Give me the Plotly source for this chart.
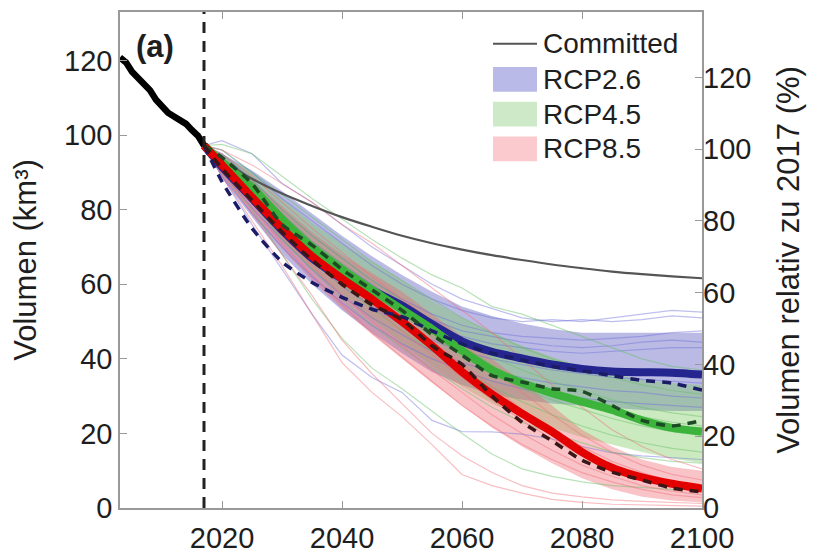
import plotly.graph_objects as go

# ---------------- data ----------------
hist_years = [2003, 2004, 2005, 2006, 2007, 2008, 2009, 2010, 2011, 2012, 2013, 2014, 2015, 2016, 2017]
hist_vol = [120.8, 119.5, 117.0, 115.5, 113.6, 112.0, 109.5, 107.5, 106.0, 105.0, 104.0, 103.0, 101.3, 99.8, 97.2]

years = [2017, 2020, 2025, 2030, 2035, 2040, 2045, 2050, 2055, 2060,
         2065, 2070, 2075, 2080, 2085, 2090, 2095, 2100]

committed = [97.2, 93.5, 88.3, 84.3, 81.0, 78.0, 75.4, 73.0, 71.0, 69.3,
             67.8, 66.5, 65.3, 64.3, 63.4, 62.7, 62.1, 61.6]

# RCP2.6
rcp26_mean = [97.2, 91.5, 83.0, 74.5, 67.0, 61.5, 58.3, 54.3, 49.3, 44.7,
              41.9, 40.1, 38.5, 37.3, 36.6, 36.4, 36.3, 35.8]
rcp26_lo = [97.2, 88.5, 78.0, 68.0, 60.0, 53.0, 47.0, 41.5, 36.5, 33.0,
            30.5, 29.0, 28.0, 27.3, 26.8, 26.3, 26.0, 26.0]
rcp26_hi = [97.2, 95.0, 90.5, 85.0, 79.0, 73.0, 67.5, 62.5, 58.0, 54.0,
            51.5, 49.5, 48.0, 47.0, 47.0, 47.0, 47.0, 47.0]
rcp26_dash = [97.2, 87.5, 75.0, 66.0, 60.5, 56.5, 53.3, 51.3, 47.5, 44.0,
              41.5, 39.7, 38.0, 36.8, 35.5, 34.2, 33.5, 31.6]
rcp26_members = [
    [97.2, 98.5, 95.0, 87.0, 82.0, 76.0, 70.0, 65.0, 60.0, 56.0, 53.5, 51.0, 50.0, 50.5, 50.0, 50.5, 51.5, 51.0],
    [97.2, 96.0, 90.0, 83.0, 77.0, 71.0, 65.0, 60.0, 56.0, 53.0, 51.0, 50.0, 50.5, 50.0, 51.0, 52.0, 53.0, 52.5],
    [97.2, 95.0, 88.0, 80.0, 73.0, 67.0, 61.0, 56.0, 52.0, 49.0, 47.0, 46.0, 45.5, 45.0, 45.5, 46.0, 47.0, 47.5],
    [97.2, 94.0, 87.0, 79.0, 71.5, 65.5, 60.0, 54.5, 50.5, 47.5, 46.0, 44.5, 43.5, 43.0, 43.5, 44.5, 45.0, 44.5],
    [97.2, 93.0, 85.0, 77.0, 70.0, 63.0, 57.5, 53.0, 49.0, 46.0, 44.0, 43.0, 42.0, 41.5, 42.0, 42.5, 43.0, 43.0],
    [97.2, 91.0, 82.0, 74.0, 66.5, 59.5, 54.0, 49.0, 45.0, 42.0, 40.0, 38.5, 37.0, 36.0, 35.0, 34.5, 34.0, 33.5],
    [97.2, 90.0, 80.5, 72.0, 64.0, 57.0, 51.0, 46.5, 42.0, 39.0, 36.5, 35.0, 33.5, 32.5, 31.5, 31.0, 30.0, 29.5],
    [97.2, 89.0, 79.0, 70.0, 62.0, 55.0, 49.0, 44.0, 40.0, 37.0, 34.0, 32.0, 30.5, 29.5, 28.5, 28.0, 27.5, 27.0],
    [97.2, 89.0, 76.0, 64.0, 52.0, 41.0, 35.0, 31.0, 23.5, 20.5, 20.4, 19.8, 18.5, 16.5, 14.8, 14.0, 13.5, 13.0],
]

# RCP4.5
rcp45_mean = [97.2, 92.8, 86.0, 77.5, 70.0, 64.0, 58.5, 53.2, 48.0, 42.2,
              37.0, 33.5, 30.8, 28.5, 26.3, 23.5, 21.5, 20.5]
rcp45_lo = [97.2, 90.0, 81.5, 72.0, 64.0, 57.0, 50.5, 44.0, 38.0, 32.5,
            28.0, 24.5, 21.5, 19.0, 17.0, 15.0, 13.3, 12.0]
rcp45_hi = [97.2, 95.0, 90.0, 83.0, 76.5, 71.0, 66.0, 61.0, 55.5, 51.0,
            47.0, 43.5, 40.5, 38.0, 36.0, 34.5, 33.5, 33.0]
rcp45_dash = [97.2, 94.0, 87.0, 76.0, 70.5, 64.0, 58.5, 53.0, 46.5, 41.0,
              35.5, 33.8, 32.0, 31.3, 27.5, 23.5, 22.0, 23.5]
rcp45_members = [
    [97.2, 97.5, 95.0, 89.0, 83.0, 77.5, 72.0, 67.0, 62.5, 59.0, 54.0, 52.0, 49.0, 46.0, 43.0, 40.0, 38.0, 37.0],
    [97.2, 96.0, 90.0, 84.0, 78.0, 72.0, 66.0, 61.0, 56.0, 51.0, 47.0, 43.0, 40.0, 37.5, 35.0, 33.0, 31.5, 30.5],
    [97.2, 94.0, 88.0, 80.0, 73.0, 67.0, 61.0, 55.5, 50.0, 45.0, 40.5, 37.0, 34.0, 31.5, 29.0, 27.0, 25.5, 24.5],
    [97.2, 93.5, 87.0, 79.0, 71.5, 65.5, 59.5, 54.0, 48.5, 43.5, 38.5, 34.0, 31.0, 28.5, 26.5, 24.5, 23.0, 22.0],
    [97.2, 93.0, 86.0, 78.0, 70.0, 64.0, 58.0, 52.0, 46.0, 41.0, 36.0, 32.0, 29.0, 26.5, 24.0, 22.0, 20.5, 19.5],
    [97.2, 92.0, 84.0, 75.0, 67.0, 60.0, 53.5, 47.5, 42.0, 37.0, 32.5, 28.5, 25.0, 22.0, 19.5, 17.5, 16.0, 15.0],
    [97.2, 91.0, 82.0, 72.0, 64.0, 56.0, 49.0, 43.0, 37.5, 32.0, 27.0, 23.0, 20.0, 17.5, 15.0, 13.5, 12.5, 12.0],
    [97.2, 90.0, 80.0, 68.0, 56.0, 45.5, 37.5, 32.0, 26.0, 20.0, 14.5, 10.5, 8.5, 7.0, 6.0, 5.5, 5.0, 5.0],
]

# RCP8.5
rcp85_mean = [97.2, 92.0, 83.3, 75.0, 67.5, 61.5, 56.0, 50.0, 43.5, 36.5,
              30.5, 25.3, 20.5, 15.0, 10.8, 8.2, 6.5, 5.2]
rcp85_lo = [97.2, 89.5, 79.0, 69.5, 61.0, 53.5, 46.5, 40.0, 33.5, 27.5,
            21.5, 16.5, 12.0, 8.0, 5.0, 3.0, 2.0, 1.5]
rcp85_hi = [97.2, 94.5, 88.0, 81.0, 74.0, 68.0, 63.0, 58.0, 52.0, 46.0,
            40.0, 34.0, 27.5, 21.0, 16.5, 13.0, 11.0, 10.0]
rcp85_dash = [97.2, 91.0, 82.5, 74.0, 66.5, 60.0, 54.5, 50.5, 43.5, 38.5,
              30.0, 23.0, 18.0, 12.8, 9.6, 7.5, 5.3, 4.3]
rcp85_members = [
    [97.2, 96.0, 92.0, 87.0, 82.0, 76.0, 71.0, 65.0, 59.0, 53.0, 47.0, 40.0, 33.0, 27.0, 21.0, 16.5, 13.0, 10.5],
    [97.2, 95.0, 89.0, 82.0, 75.0, 68.5, 62.0, 56.0, 50.0, 44.0, 37.5, 31.0, 25.0, 19.5, 15.0, 11.5, 9.0, 7.5],
    [97.2, 93.0, 86.0, 78.0, 70.5, 63.0, 56.5, 50.5, 44.5, 38.5, 32.5, 26.5, 21.0, 16.5, 12.5, 9.5, 7.0, 5.5],
    [97.2, 92.5, 85.0, 77.0, 69.0, 62.0, 55.0, 49.0, 42.5, 36.5, 30.5, 25.0, 19.5, 15.0, 11.5, 8.5, 6.5, 5.0],
    [97.2, 92.0, 84.0, 76.0, 68.0, 60.5, 54.0, 47.5, 41.0, 35.0, 29.0, 23.5, 18.5, 14.0, 10.5, 8.0, 6.0, 4.5],
    [97.2, 91.0, 82.0, 73.0, 65.0, 57.0, 50.0, 43.5, 37.0, 31.0, 25.0, 20.0, 15.5, 11.5, 8.5, 6.0, 4.5, 3.5],
    [97.2, 90.0, 80.5, 71.0, 62.5, 54.5, 47.0, 40.5, 34.0, 27.5, 22.0, 17.0, 13.0, 9.5, 7.0, 5.0, 3.5, 2.8],
    [97.2, 89.5, 79.0, 68.0, 57.0, 45.0, 36.0, 28.0, 20.0, 14.0, 9.5, 6.0, 4.0, 3.0, 2.2, 1.8, 1.5, 1.2],
    [97.2, 89.0, 77.0, 65.0, 52.0, 39.0, 31.0, 24.5, 17.0, 9.0, 6.0, 4.0, 2.3, 1.5, 1.0, 0.8, 0.6, 0.5],
]

vol_2017 = 96.2
x_ticks = [2020, 2040, 2060, 2080, 2100]
y_ticks = [0, 20, 40, 60, 80, 100, 120]

# ---------------- figure ----------------
FONT = "Liberation Sans, Arial, sans-serif"
TXT = "#1e1e1e"
fig = go.Figure()

blue = dict(mean=rcp26_mean, lo=rcp26_lo, hi=rcp26_hi, dash=rcp26_dash, members=rcp26_members,
            band="rgba(90,90,190,0.42)", thin="rgba(110,110,220,0.45)",
            meanc="#25258f", dashc="#1c1c66")
green = dict(mean=rcp45_mean, lo=rcp45_lo, hi=rcp45_hi, dash=rcp45_dash, members=rcp45_members,
             band="rgba(120,200,90,0.38)", thin="rgba(100,190,100,0.45)",
             meanc="#3cb43c", dashc="#1d4a24")
red = dict(mean=rcp85_mean, lo=rcp85_lo, hi=rcp85_hi, dash=rcp85_dash, members=rcp85_members,
           band="rgba(240,100,110,0.38)", thin="rgba(240,110,120,0.45)",
           meanc="#e30000", dashc="#3a1616")
scen = [blue, green, red]

for s in scen:
    fig.add_trace(go.Scatter(x=years + years[::-1], y=s["hi"] + s["lo"][::-1], fill="toself",
                             fillcolor=s["band"], line=dict(width=0), mode="lines",
                             hoverinfo="skip", showlegend=False))
for s in scen:
    for m in s["members"]:
        fig.add_trace(go.Scatter(x=years, y=m, mode="lines",
                                 line=dict(color=s["thin"], width=1.2),
                                 showlegend=False))
fig.add_trace(go.Scatter(x=years, y=committed, mode="lines",
                         line=dict(color="#555555", width=2.2, shape="spline"),
                         showlegend=False))
for s in scen:
    fig.add_trace(go.Scatter(x=years, y=s["mean"], mode="lines",
                             line=dict(color=s["meanc"], width=8, shape="spline", smoothing=0.6),
                             showlegend=False))
for s in scen:
    fig.add_trace(go.Scatter(x=years, y=s["dash"], mode="lines",
                             line=dict(color=s["dashc"], width=3.5, dash="9px,7px",
                                       shape="spline", smoothing=0.6),
                             showlegend=False))
fig.add_trace(go.Scatter(x=hist_years, y=hist_vol, mode="lines",
                         line=dict(color="black", width=6.5), showlegend=False))

fig.add_shape(type="line", xref="x", yref="paper", x0=2017, x1=2017, y0=0, y1=1,
              line=dict(color="#222222", width=3, dash="11px,8px"))

# manual legend (plot area spans 120..702 x 10..510 in page pixels)
leg_x0, leg_x1 = (493 - 120) / 582, (537 - 120) / 582
def py(p):
    return (510 - p) / 500
fig.add_shape(type="line", xref="paper", yref="paper", x0=leg_x0, x1=leg_x1,
              y0=py(42), y1=py(42), line=dict(color="#555555", width=2))
legend_items = [("Committed", 42, None),
                ("RCP2.6", 78, "rgb(186,186,232)"),
                ("RCP4.5", 113, "rgb(206,233,200)"),
                ("RCP8.5", 148, "rgb(250,202,206)")]
for name, yc, col in legend_items:
    if col:
        fig.add_shape(type="rect", xref="paper", yref="paper", x0=leg_x0, x1=leg_x1,
                      y0=py(yc + 12.5), y1=py(yc - 12.5), fillcolor=col, line=dict(width=0))
    fig.add_annotation(x=(541 - 120) / 582, y=py(yc), xref="paper", yref="paper",
                       text=name, showarrow=False, xanchor="left", yanchor="middle",
                       font=dict(family=FONT, size=28, color=TXT))

fig.add_annotation(x=(134 - 120) / 582, y=py(45), xref="paper", yref="paper",
                   text="<b>(a)</b>", showarrow=False, xanchor="left", yanchor="middle",
                   font=dict(family=FONT, size=31, color=TXT))

axis_common = dict(ticks="inside", ticklen=7, tickcolor="#999999", tickwidth=1.3,
                   showgrid=False, zeroline=False,
                   tickfont=dict(family=FONT, size=29, color=TXT))

# the page body has an 8px margin: figure is 815x548 placed at (8, 8)
fig.update_layout(
    width=815, height=548,
    margin=dict(l=112, r=121, t=2, b=46),
    paper_bgcolor="white", plot_bgcolor="white",
    showlegend=False,
    xaxis=dict(range=[2003, 2100], tickvals=x_ticks, showline=True, mirror="ticks",
               linecolor="#999999", linewidth=1.5, ticklabelstandoff=3, **axis_common),
    yaxis=dict(range=[0, 133], tickvals=y_ticks, showline=True, mirror=True,
               linecolor="#999999", linewidth=1.5,
               title=dict(text="Volumen (km³)", standoff=18,
                          font=dict(family=FONT, size=31, color=TXT)),
               **axis_common),
    yaxis2=dict(range=[0, 133 / vol_2017 * 100], tickvals=y_ticks, overlaying="y",
                side="right", showline=False,
                title=dict(text="Volumen relativ zu 2017 (%)", standoff=26,
                           font=dict(family=FONT, size=31, color=TXT)),
                **axis_common),
)
fig.add_trace(go.Scatter(x=[2003], y=[0], yaxis="y2", mode="markers",
                         marker=dict(opacity=0), showlegend=False, hoverinfo="skip"))

fig.write_html("out.html")
